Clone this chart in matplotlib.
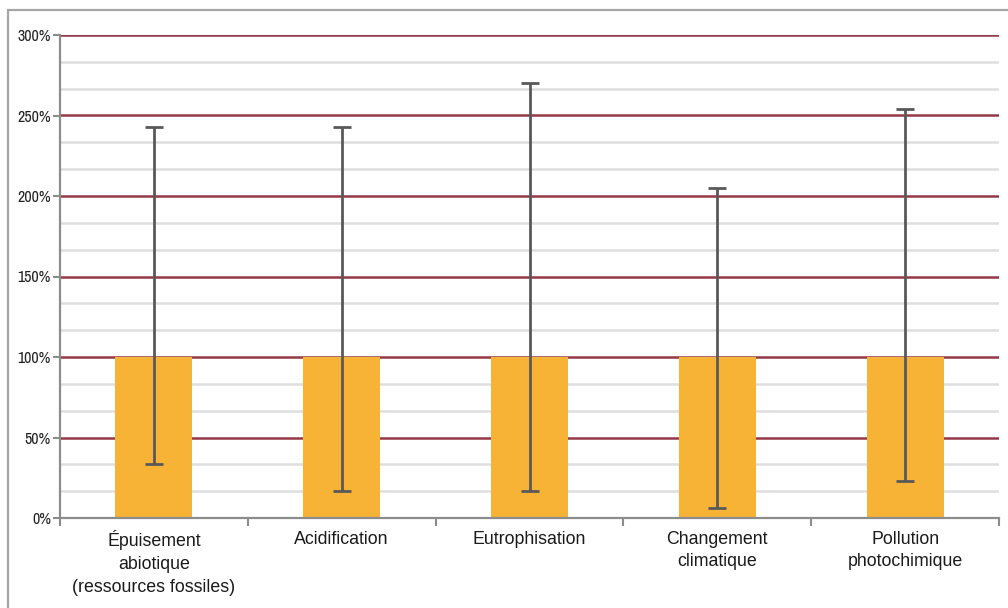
import matplotlib.pyplot as plt
import numpy as np
from matplotlib import font_manager as fm
from matplotlib.patches import Rectangle
from matplotlib.ticker import FixedLocator, FuncFormatter

# data (percent of reference)
categories = ["Épuisement\nabiotique\n(ressources fossiles)", "Acidification",
              "Eutrophisation", "Changement\nclimatique", "Pollution\nphotochimique"]
values = [100, 100, 100, 100, 100]
err_low = [33.5, 17, 17, 6, 23]
err_high = [243, 243, 270, 205, 254]

# pick installed fonts
names = sorted({f.name for f in fm.fontManager.ttflist})
narrow = [n for n in names if 'Narrow' in n or 'Condensed' in n]
main_font = 'Liberation Sans' if 'Liberation Sans' in names else 'DejaVu Sans'
tick_font = narrow[0] if narrow else main_font

fig = plt.figure(figsize=(10.08, 6.08), dpi=100)
ax = fig.add_axes([60 / 1008, 90 / 608, 939 / 1008, 483 / 608])

# outer frame of the chart
fig.patches.append(Rectangle((8 / 1008, -0.1), 1.2, 1.1 - 10 / 608, transform=fig.transFigure,
                             fill=False, edgecolor='#A6A6A6', linewidth=1.6, zorder=0))

x = np.arange(len(categories))
vals = np.array(values)
yerr = [vals - np.array(err_low), np.array(err_high) - vals]

# grid lines
for g in np.arange(0, 300.1, 50 / 3):
    if abs(g / 50 - round(g / 50)) < 1e-6:
        if g > 0:
            ax.axhline(g, color='#953848', lw=1.8, zorder=1)
    else:
        ax.axhline(g, color='#DEDEDE', lw=1.8, zorder=1)

ax.bar(x, vals, width=0.41, color='#F6B335', zorder=2)
ax.errorbar(x, vals, yerr=yerr, fmt='none', ecolor='#595959', elinewidth=2,
            capsize=6.5, capthick=2, zorder=3)

ax.set_xlim(-0.5, 4.5)
ax.set_ylim(0, 300)

for s in ['top', 'right']:
    ax.spines[s].set_visible(False)
for s in ['left', 'bottom']:
    ax.spines[s].set_color('#8C8C8C')
    ax.spines[s].set_linewidth(1.6)

ax.yaxis.set_major_locator(FixedLocator(np.arange(0, 301, 50)))
ax.yaxis.set_major_formatter(FuncFormatter(lambda v, p: f"{int(v)}%"))
ax.tick_params(axis='y', length=5, width=1.5, color='#8C8C8C', pad=1.5)
for t in ax.get_yticklabels():
    t.set_family([tick_font, 'DejaVu Sans'])
    t.set_fontsize(11.5 if tick_font != main_font else 9)
    t.set_color('#222222')

ax.set_xticks(x)
ax.set_xticklabels(categories, fontsize=12.8, family=[main_font, 'DejaVu Sans'],
                   color='#1a1a1a', linespacing=1.45)
ax.tick_params(axis='x', which='major', length=0, pad=9)
ax.set_xticks(np.arange(-0.5, 4.6, 1), minor=True)
ax.tick_params(axis='x', which='minor', length=6, width=1.5, color='#8C8C8C')

fig.savefig('out.png', dpi=100)
